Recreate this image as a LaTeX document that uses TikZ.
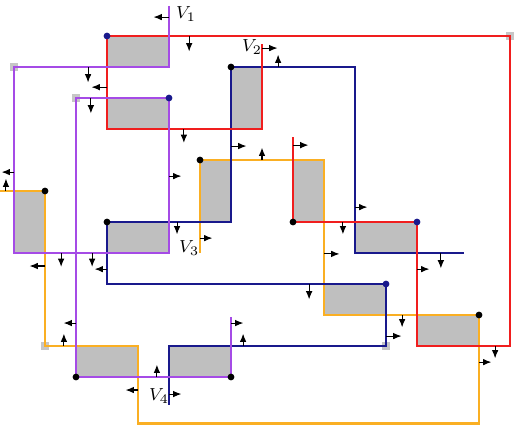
\documentclass[tikz,border=0pt]{standalone}
\usetikzlibrary{arrows.meta}

\definecolor{vpurple}{RGB}{165,75,230}
\definecolor{vred}{RGB}{240,30,30}
\definecolor{vnavy}{RGB}{25,25,140}
\definecolor{vorange}{RGB}{250,175,35}

\begin{document}
\begin{tikzpicture}[x=0.5cm,y=-0.5cm,inner sep=0pt,minimum size=0mm,
  path/.style={line width=1pt},
  arr/.style={line width=0.5pt,-{Latex[length=3.8pt,width=3pt]}},
  bigdot/.style={circle,fill,minimum size=1.1mm},
  endsq/.style={fill=gray!45,minimum size=1.15mm},
  box/.style={fill=gray!50},
  lbl/.style={font=\footnotesize}]

\useasboundingbox (-0.4516,-1.161) rectangle (16.129,12.645);

% shaded blocks
\fill[box] (3,0) rectangle (5,1);
\fill[box] (3,2) rectangle (5,3);
\fill[box] (7,1) rectangle (8,3);
\fill[box] (6,4) rectangle (7,6);
\fill[box] (0,5) rectangle (1,7);
\fill[box] (3,6) rectangle (5,7);
\fill[box] (9,4) rectangle (10,6);
\fill[box] (11,6) rectangle (13,7);
\fill[box] (10,8) rectangle (12,9);
\fill[box] (13,9) rectangle (15,10);
\fill[box] (2,10) rectangle (4,11);
\fill[box] (5,10) rectangle (7,11);

% open ends
\node[endsq] (s1) at (16,0) {};
\node[endsq] (s2) at (0,1) {};
\node[endsq] (s3) at (2,2) {};
\node[endsq] (s4) at (12,10) {};
\node[endsq] (s5) at (1,10) {};

% the four paths
\draw[path,vorange] (6,7) -- (6,4) -- (10,4) -- (10,9) -- (15,9) -- (15,12.5)
  -- (4,12.5) -- (4,10) -- (1,10) -- (1,5) -- (-0.46,5);
\draw[path,vnavy] (5,11.9) -- (5,10) -- (12,10) -- (12,8) -- (3,8) -- (3,6)
  -- (7,6) -- (7,1) -- (11,1) -- (11,7) -- (14.52,7);
\draw[path,vred] (8,0.26) -- (8,3) -- (3,3) -- (3,0) -- (16,0) -- (16,10)
  -- (13,10) -- (13,6) -- (9,6) -- (9,3.26);
\draw[path,vpurple] (5,-0.97) -- (5,1) -- (0,1) -- (0,7) -- (5,7) -- (5,2)
  -- (2,2) -- (2,11) -- (7,11) -- (7,9.05);

% end points
\node[bigdot,vnavy] (a1) at (3,0) {};
\node[bigdot,vnavy] (a2) at (5,2) {};
\node[bigdot,vnavy] (a3) at (13,6) {};
\node[bigdot,vnavy] (a4) at (12,8) {};
\node[bigdot] (b1) at (7,1) {};
\node[bigdot] (b2) at (6,4) {};
\node[bigdot] (b3) at (1,5) {};
\node[bigdot] (b4) at (3,6) {};
\node[bigdot] (b5) at (9,6) {};
\node[bigdot] (b6) at (15,9) {};
\node[bigdot] (b7) at (2,11) {};
\node[bigdot] (b8) at (7,11) {};

% small arrows
\draw[arr] (5,-0.61) -- ++(-0.5,0);
\draw[arr] (5.65,0) -- ++(0,0.5);
\draw[arr] (2.39,1) -- ++(0,0.5);
\draw[arr] (3,1.65) -- ++(-0.5,0);
\draw[arr] (2.48,2) -- ++(0,0.5);
\draw[arr] (5.48,3) -- ++(0,0.45);
\draw[arr] (7,3.55) -- ++(0.5,0);
\draw[arr] (5,4.52) -- ++(0.4,0);
\draw[arr] (0,4.39) -- ++(-0.4,0);
\draw[arr] (-0.26,5) -- ++(0,-0.4);
\draw[arr] (8,0.39) -- ++(0.5,0);
\draw[arr] (8.52,1) -- ++(0,-0.4);
\draw[arr] (9,3.52) -- ++(0.5,0);
\draw[arr] (8,4) -- ++(0,-0.4);
\draw[arr] (11,5.52) -- ++(0.4,0);
\draw[arr] (5.26,6) -- ++(0,0.4);
\draw[arr] (6,6.52) -- ++(0.4,0);
\draw[arr] (1,7.42) -- ++(-0.5,0);
\draw[arr] (1.52,7) -- ++(0,0.45);
\draw[arr] (2.52,7) -- ++(0,0.45);
\draw[arr] (3,7.52) -- ++(-0.4,0);
\draw[arr] (2,9.26) -- ++(-0.4,0);
\draw[arr] (1.61,10) -- ++(0,-0.4);
\draw[arr] (4.61,11) -- ++(0,-0.4);
\draw[arr] (4,11.42) -- ++(-0.4,0);
\draw[arr] (5,11.55) -- ++(0.4,0);
\draw[arr] (7,9.26) -- ++(0.4,0);
\draw[arr] (7.39,10) -- ++(0,-0.4);
\draw[arr] (10.61,6) -- ++(0,0.4);
\draw[arr] (10,7.03) -- ++(0.5,0);
\draw[arr] (13,7.52) -- ++(0.4,0);
\draw[arr] (13.77,7) -- ++(0,0.5);
\draw[arr] (9.52,8) -- ++(0,0.5);
\draw[arr] (12.52,9) -- ++(0,0.4);
\draw[arr] (12,9.68) -- ++(0.5,0);
\draw[arr] (15.52,10) -- ++(0,0.4);
\draw[arr] (15,10.52) -- ++(0.4,0);

\node[lbl] (v1) at (5.55,-0.71) {$V_1$};
\node[lbl] (v2) at (7.68,0.35) {$V_2$};
\node[lbl] (v3) at (5.65,6.84) {$V_3$};
\node[lbl] (v4) at (4.68,11.61) {$V_4$};

\end{tikzpicture}
\end{document}
